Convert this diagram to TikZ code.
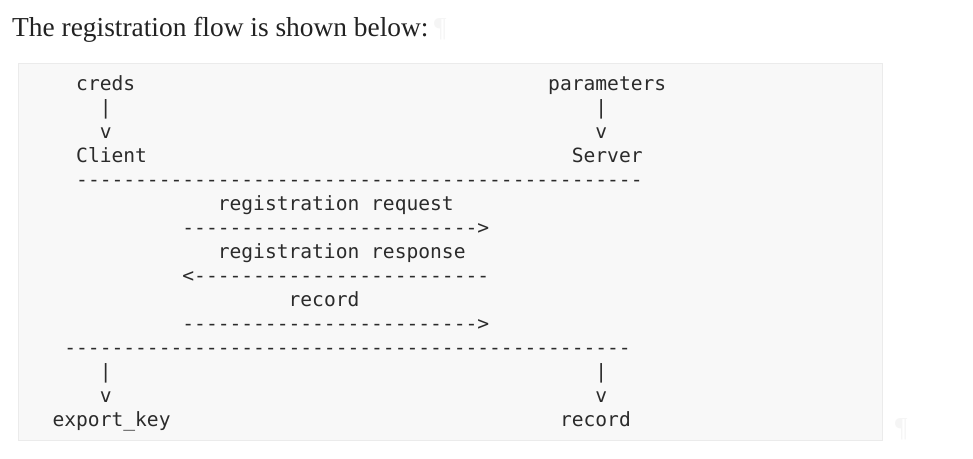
\documentclass[tikz,border=0pt]{standalone}
\usepackage{fontspec}
\setmainfont{Liberation Serif}
\setmonofont{DejaVu Sans Mono}
\usepackage{tikz}
\usetikzlibrary{positioning}
\definecolor{codebg}{HTML}{F8F8F8}
\definecolor{codeline}{HTML}{EBEBEB}
\definecolor{codeink}{HTML}{2B2B2B}
\definecolor{headink}{HTML}{222222}
\definecolor{markink}{HTML}{F5F5F5}

\begin{document}
\begin{tikzpicture}[
  x=1pt, y=-1pt,
  code/.style={anchor=base west, inner sep=0pt, text=codeink, font=\ttfamily\fontsize{19.6}{24}\selectfont},
  head/.style={anchor=base west, inner sep=0pt, text=headink, font=\fontsize{27.4}{32}\selectfont},
  pilcrow/.style={head, text=markink}
]
  \useasboundingbox (0,0) rectangle (973,458);
  \fill[white] (0,0) rectangle (973,458);

  % heading
  \node[head] (title) at (12,36) {The registration flow is shown below:};
  \node[pilcrow] (mark-top) at (434,36) {\P};

  % code block
  \draw[codeline, fill=codebg] (18.5,63.5) rectangle (882.5,440.5);
  \node[pilcrow] (mark-bottom) at (895,436) {\P};

  % parties
  \node[code] (creds) at (76.0,90) {creds};
  \node[code] (params) at (548.0,90) {parameters};
  \node[code] (creds-bar) at (99.6,114) {|};
  \node[code] (params-bar) at (595.2,114) {|};
  \node[code] (creds-tip) at (99.6,138) {v};
  \node[code] (params-tip) at (595.2,138) {v};
  \node[code] (client) at (76.0,162) {Client};
  \node[code] (server) at (571.6,162) {Server};
  \node[code] (rule-top) at (76.0,186) {------------------------------------------------};

  % messages
  \node[code] (req-label) at (217.6,210) {registration request};
  \node[code] (req-arrow) at (182.2,234) {------------------------->};
  \node[code] (resp-label) at (217.6,258) {registration response};
  \node[code] (resp-arrow) at (182.2,282) {<-------------------------};
  \node[code] (rec-label) at (288.4,306) {record};
  \node[code] (rec-arrow) at (182.2,330) {------------------------->};
  \node[code] (rule-bottom) at (64.2,354) {------------------------------------------------};

  % outputs
  \node[code] (key-bar) at (99.6,378) {|};
  \node[code] (rec-bar) at (595.2,378) {|};
  \node[code] (key-tip) at (99.6,402) {v};
  \node[code] (rec-tip) at (595.2,402) {v};
  \node[code] (export-key) at (52.4,426) {export\_key};
  \node[code] (record) at (559.8,426) {record};
\end{tikzpicture}
\end{document}
